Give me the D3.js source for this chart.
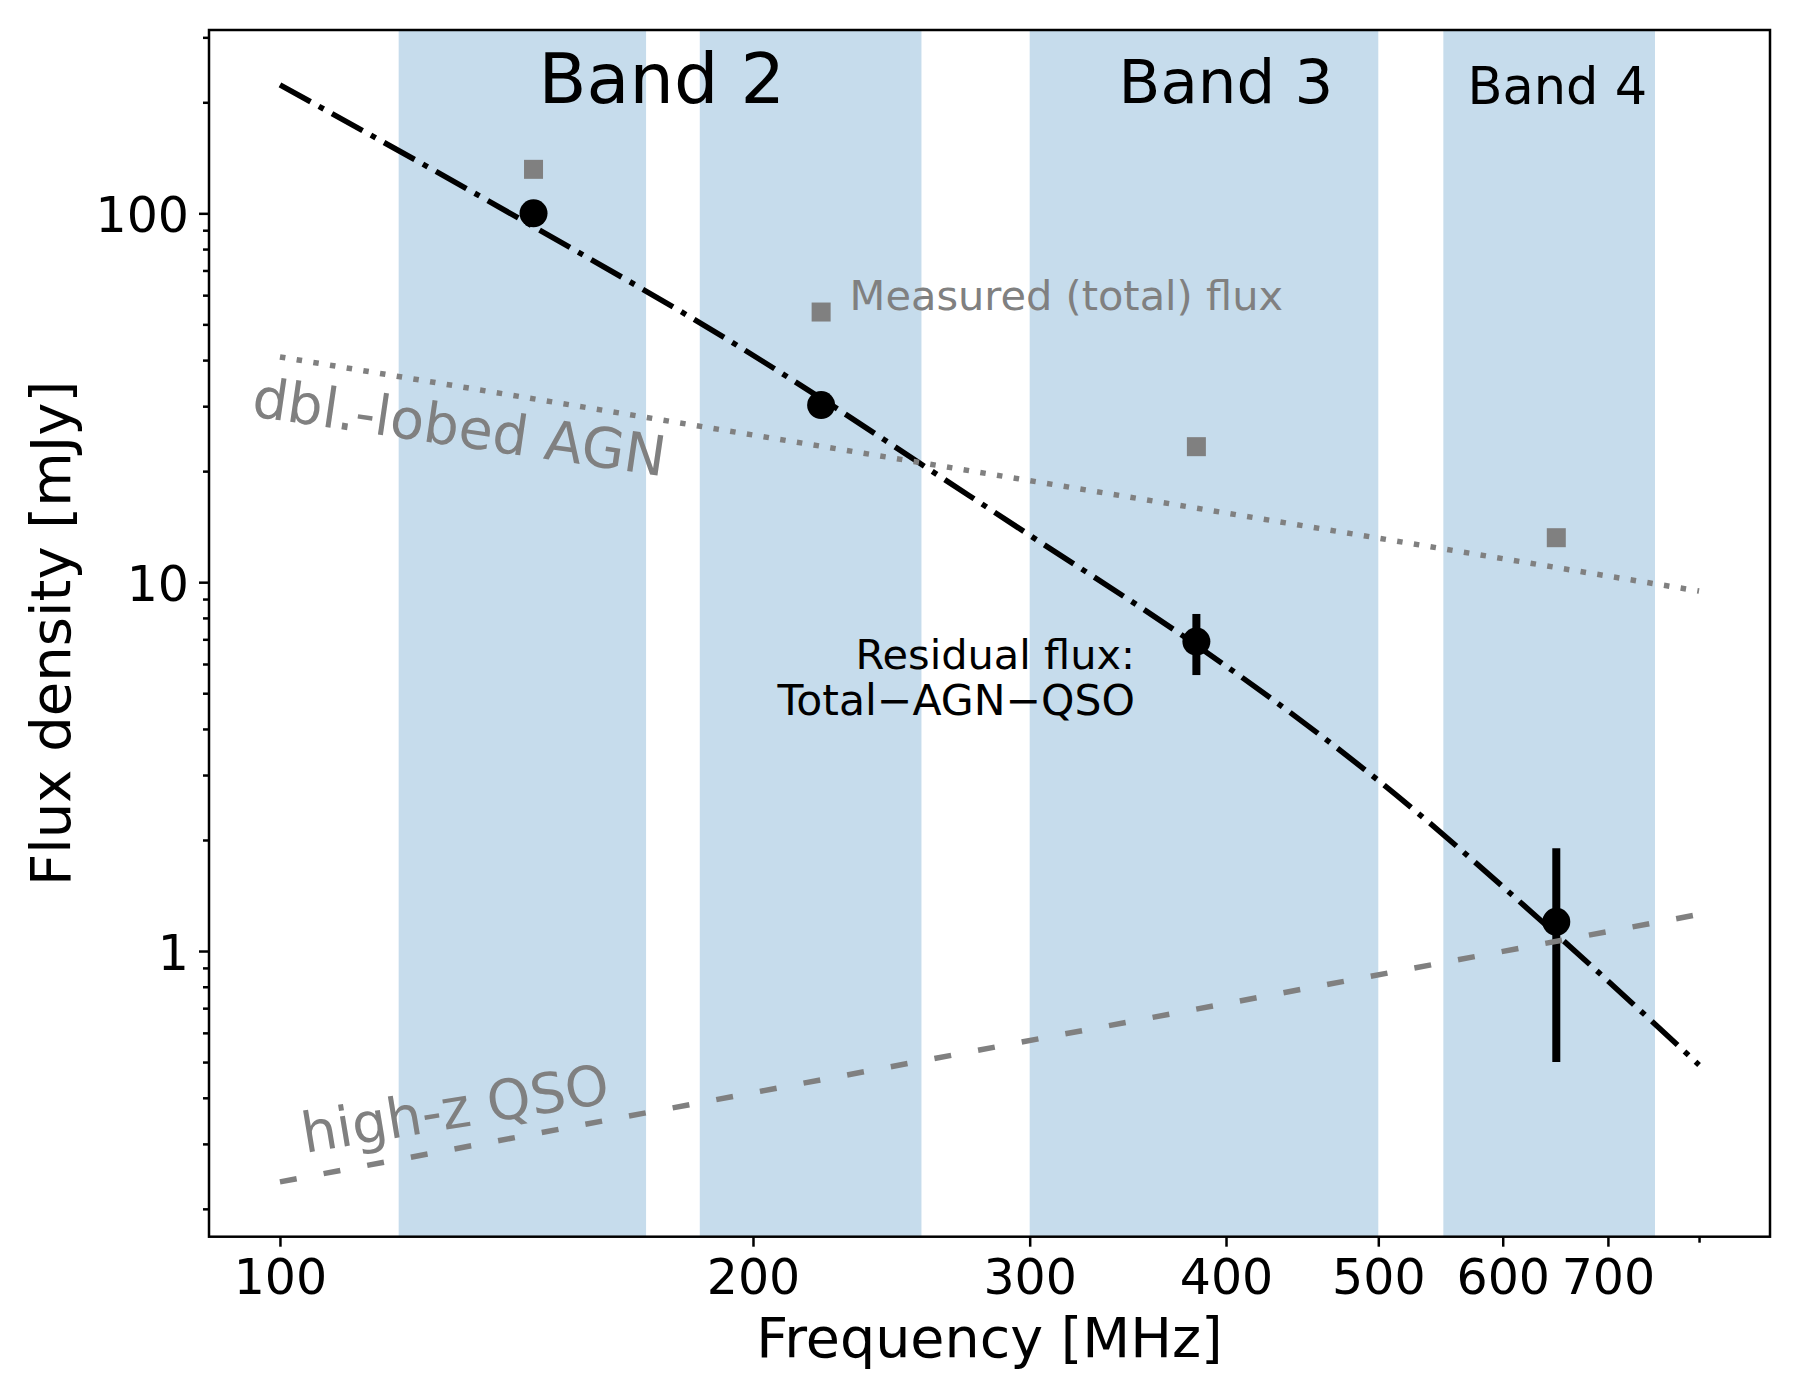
<!DOCTYPE html>
<html><head><meta charset="utf-8">
<script src="https://cdn.jsdelivr.net/npm/d3@7"></script>
<style>
body{margin:0;background:#fff}
svg{display:block}
text{font-family:"DejaVu Sans","Liberation Sans",sans-serif}
</style>
</head><body>
<svg id="chart" width="1800" height="1400"></svg>
<script>
// ---------------- data ----------------
const bandRanges = [[119, 171], [185, 256], [300, 500], [550, 750]];   // MHz (shaded)
const bandLabels = ["Band 2", "Band 3", "Band 4"];
const bandLabelFreq = [175, 400, 650];

const obsFreq = [145, 221, 383, 649];            // MHz
const totalFlux = [131.6, 54, 23.3, 13.2];       // mJy (grey squares)
const residualFlux = [100, 30.2, 6.9, 1.2];      // mJy (black dots)
const residualErr = [0, 0, 1.3, 0.7];

const modelFreq = [100, 145, 196, 221, 255, 300, 383, 500, 649, 800];
const modelFlux = [223, 92, 43.5, 31.5, 21.1, 13.4, 6.75, 2.9, 1.11, 0.491];
const agnFreq = [100, 800];
const agnFlux = [40.8, 9.46];
const qsoFreq = [100, 800];
const qsoFlux = [0.2367, 1.257];

const xTickValues = [100, 200, 300, 400, 500, 600, 700];
const xTickLabels = ["100", "200", "300", "400", "500", "600", "700"];
const xMinorTickValues = [800];
const yTickValues = [1, 10, 100];
const yTickLabels = ["1", "10", "100"];
const yMinorTickValues = [0.2,0.3,0.4,0.5,0.6,0.7,0.8,0.9,2,3,4,5,6,7,8,9,20,30,40,50,60,70,80,90,200,300];

// ---------------- layout ----------------
const svg = d3.select("#chart");
const L = 209, R = 1770, T = 30, B = 1236.7;
const GREY = "#808080";
const BAND = "rgb(198,220,236)";

// matplotlib-like 5% log margins around line data
function logDomain(vals) {
  const lo = Math.log10(d3.min(vals)), hi = Math.log10(d3.max(vals));
  const m = (hi - lo) * 0.05;
  return [Math.pow(10, lo - m), Math.pow(10, hi + m)];
}
const x = d3.scaleLog().domain(logDomain(modelFreq.concat(agnFreq, qsoFreq))).range([L, R]);
const y = d3.scaleLog().domain(logDomain(modelFlux.concat(agnFlux, qsoFlux))).range([B, T]);

// bands
svg.append("g").selectAll("rect").data(bandRanges).join("rect")
  .attr("x", d => x(d[0])).attr("width", d => x(d[1]) - x(d[0]))
  .attr("y", T).attr("height", B - T).attr("fill", BAND);

const line = (fs, ss) => d3.line().curve(d3.curveMonotoneX)(fs.map((f, i) => [x(f), y(ss[i])]));

// model (dash-dot)
svg.append("path").attr("d", line(modelFreq, modelFlux))
  .attr("fill", "none").attr("stroke", "#000").attr("stroke-width", 5.5)
  .attr("stroke-dasharray", "35,9.5,5.5,9.5");

// AGN dotted
svg.append("path").attr("d", line(agnFreq, agnFlux))
  .attr("fill", "none").attr("stroke", GREY).attr("stroke-width", 5.5)
  .attr("stroke-dasharray", "5.5,11.4");

// measured squares
const sq = 19;
svg.append("g").selectAll("rect").data(obsFreq).join("rect")
  .attr("x", (d) => x(d) - sq / 2).attr("y", (d, i) => y(totalFlux[i]) - sq / 2)
  .attr("width", sq).attr("height", sq).attr("fill", GREY);

// error bars
svg.append("g").selectAll("line").data(obsFreq.filter((d, i) => residualErr[i] > 0)).join("line")
  .attr("x1", d => x(d)).attr("x2", d => x(d))
  .attr("y1", d => { const i = obsFreq.indexOf(d); return y(residualFlux[i] - residualErr[i]); })
  .attr("y2", d => { const i = obsFreq.indexOf(d); return y(residualFlux[i] + residualErr[i]); })
  .attr("stroke", "#000").attr("stroke-width", 8);

// residual dots
svg.append("g").selectAll("circle").data(obsFreq).join("circle")
  .attr("cx", d => x(d)).attr("cy", (d, i) => y(residualFlux[i])).attr("r", 14).attr("fill", "#000");

// QSO dashed
svg.append("path").attr("d", line(qsoFreq, qsoFlux))
  .attr("fill", "none").attr("stroke", GREY).attr("stroke-width", 5.5)
  .attr("stroke-dasharray", "17,27.4");

// band labels
const bandSizes = [70, 61, 51];
svg.append("g").selectAll("text").data(bandLabels).join("text")
  .attr("x", (d, i) => x(bandLabelFreq[i])).attr("y", (d, i) => [103.3, 102.7, 104][i])
  .attr("text-anchor", "middle").attr("font-size", (d, i) => bandSizes[i]).attr("fill", "#000")
  .text(d => d);

// annotations
svg.append("text").attr("x", x(obsFreq[1]) + 28.5).attr("y", 310)
  .attr("font-size", 41.5).attr("fill", GREY).text("Measured (total) flux");
svg.append("text").attr("x", 1135).attr("y", 669).attr("text-anchor", "end")
  .attr("font-size", 41.5).attr("fill", "#000").text("Residual flux:");
svg.append("text").attr("x", 1135).attr("y", 715).attr("text-anchor", "end")
  .attr("font-size", 42.5).attr("fill", "#000").text("Total\u2212AGN\u2212QSO");
svg.append("text").attr("transform", "translate(250.5,416) rotate(8.3)")
  .attr("font-size", 55.5).attr("fill", GREY).text("dbl.-lobed AGN");
svg.append("text").attr("transform", "translate(305,1153) rotate(-9.4)")
  .attr("font-size", 55.5).attr("fill", GREY).text("high-z QSO");

// axes
const styleAxis = g => {
  g.select(".domain").remove();
  g.selectAll(".tick line").attr("stroke", "#000").attr("stroke-width", 2.5);
  g.selectAll(".tick text").attr("font-size", 49).attr("fill", "#000")
   .attr("font-family", '"DejaVu Sans",sans-serif');
};
svg.append("g").attr("transform", `translate(0,${B})`)
  .call(d3.axisBottom(x).tickValues(xTickValues).tickFormat((d, i) => xTickLabels[i]).tickSize(10).tickPadding(12.5).tickSizeOuter(0))
  .call(styleAxis);
svg.append("g").attr("transform", `translate(0,${B})`)
  .call(d3.axisBottom(x).tickValues(xMinorTickValues).tickFormat("").tickSize(6).tickSizeOuter(0))
  .call(styleAxis);
svg.append("g").attr("transform", `translate(${L},0)`)
  .call(d3.axisLeft(y).tickValues(yTickValues).tickFormat((d, i) => yTickLabels[i]).tickSize(10).tickPadding(10).tickSizeOuter(0))
  .call(styleAxis)
  .selectAll(".tick text").attr("dy", "0.375em");
svg.append("g").attr("transform", `translate(${L},0)`)
  .call(d3.axisLeft(y).tickValues(yMinorTickValues).tickFormat("").tickSize(6).tickSizeOuter(0))
  .call(styleAxis);

// frame
svg.append("rect").attr("x", L).attr("y", T).attr("width", R - L).attr("height", B - T)
  .attr("fill", "none").attr("stroke", "#000").attr("stroke-width", 2.5);

// axis labels
svg.append("text").attr("x", (L + R) / 2).attr("y", 1357).attr("text-anchor", "middle")
  .attr("font-size", 55.5).attr("fill", "#000").text("Frequency [MHz]");
svg.append("text").attr("transform", `translate(70,${(T + B) / 2}) rotate(-90)`).attr("text-anchor", "middle")
  .attr("font-size", 56).attr("fill", "#000").text("Flux density [mJy]");
</script>
</body></html>
